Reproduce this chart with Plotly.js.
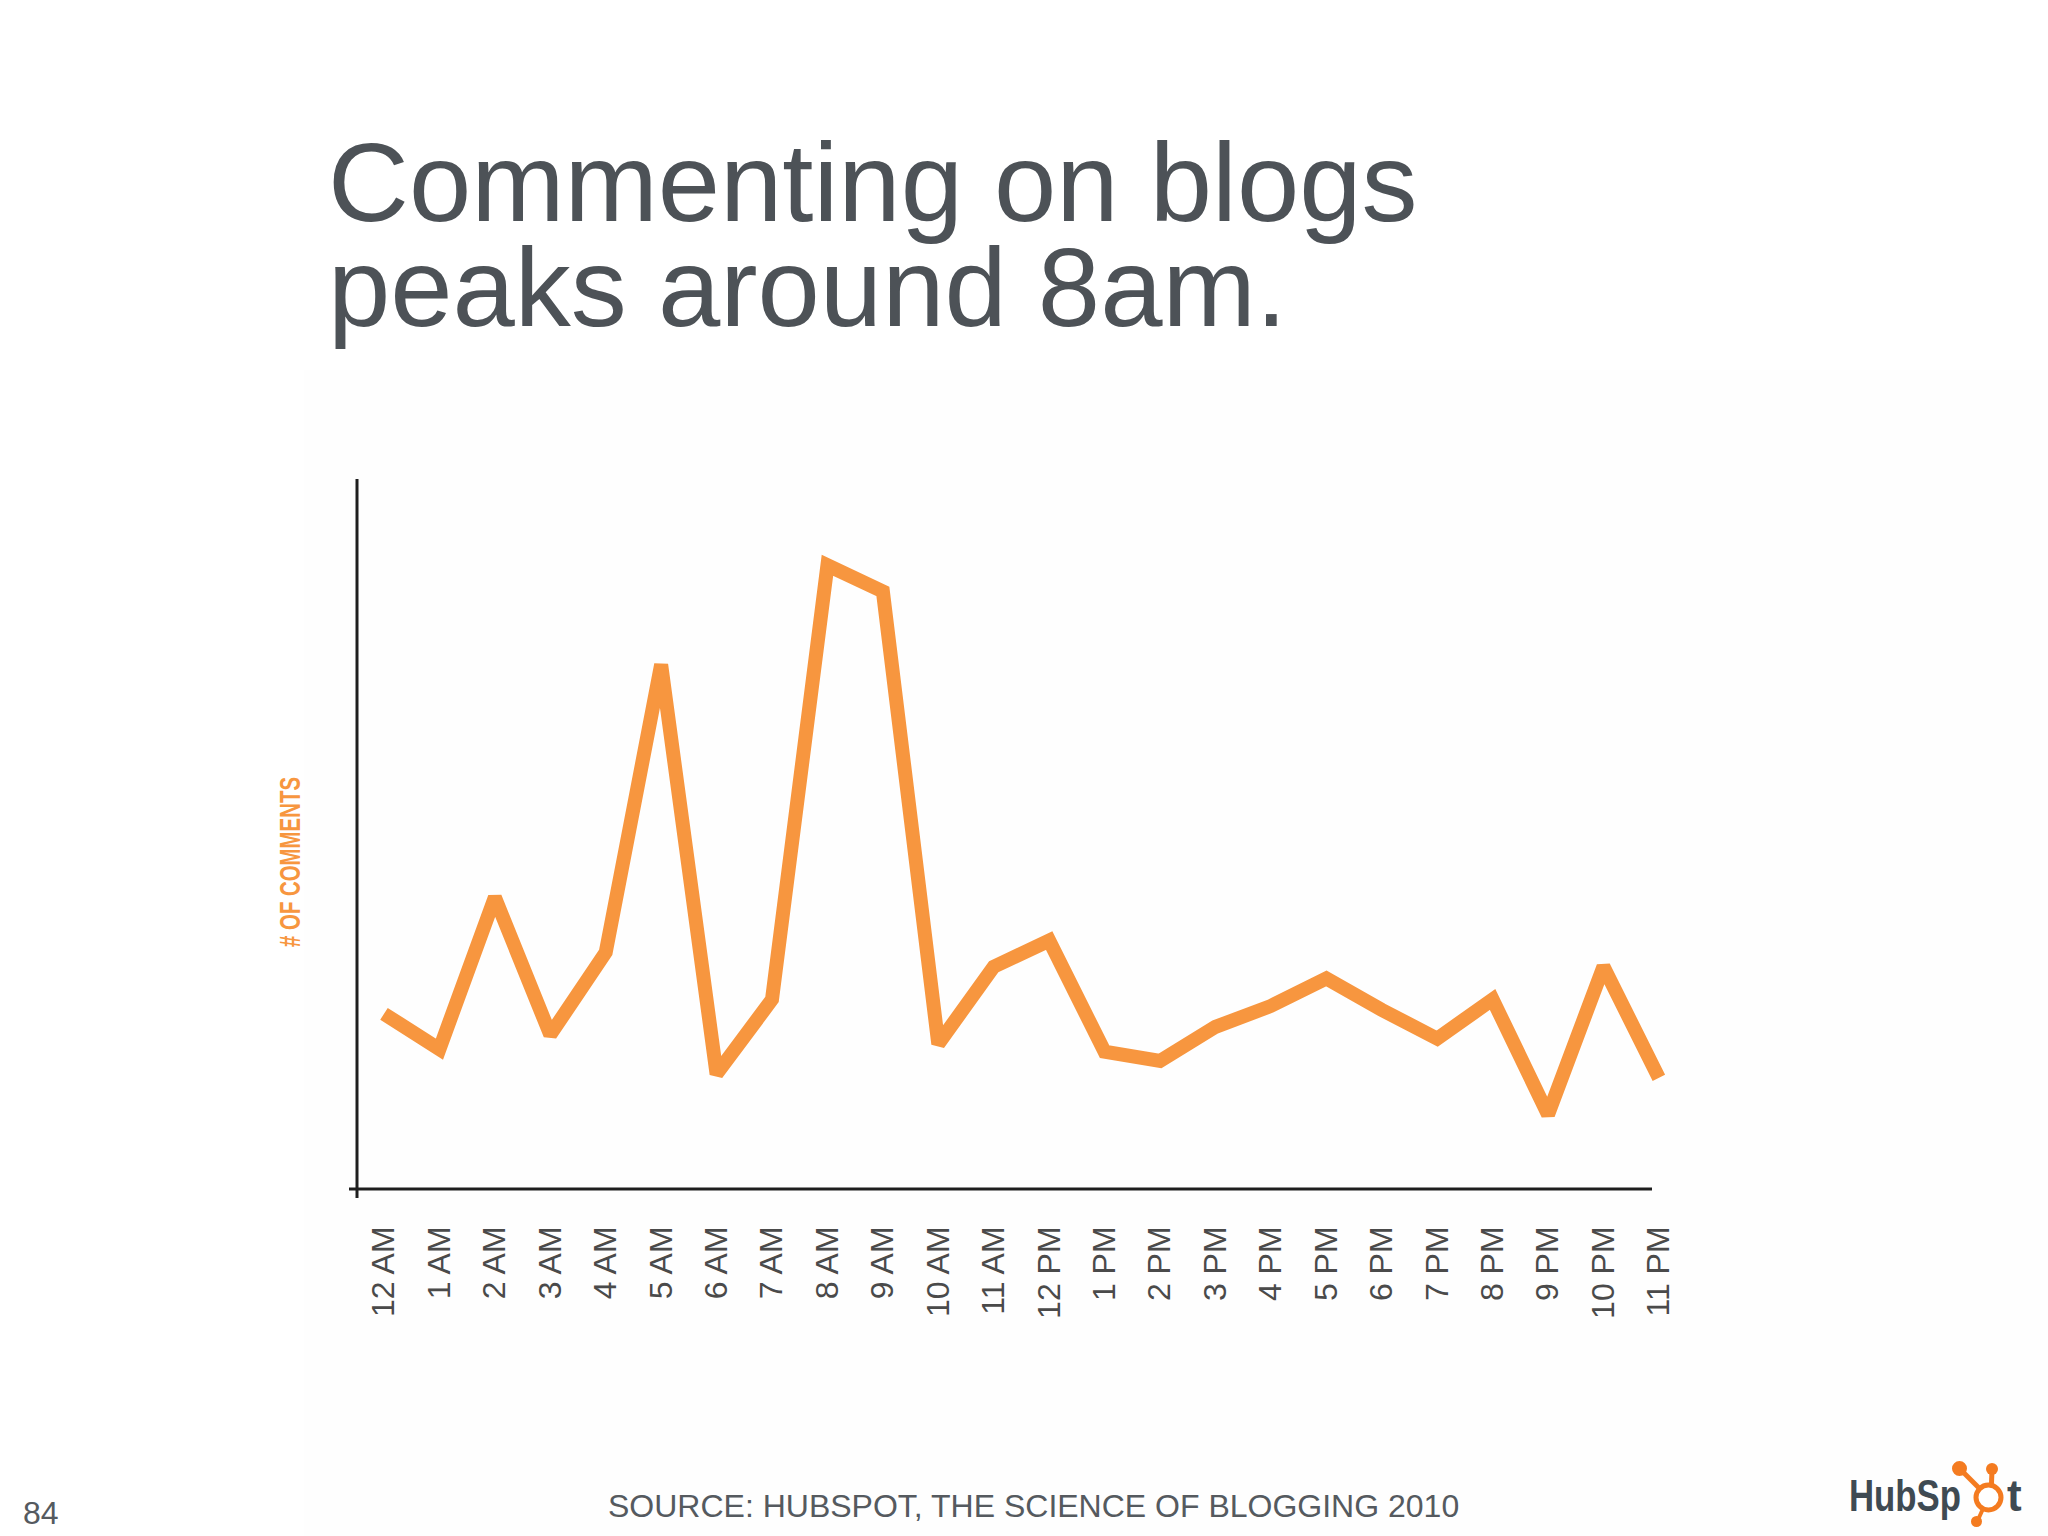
<!DOCTYPE html>
<html>
<head>
<meta charset="utf-8">
<script src="https://cdn.plot.ly/plotly-3.0.1.min.js"></script>
<style>
  html, body { margin: 0; padding: 0; background: #ffffff; }
  #chart { width: 2048px; height: 1536px; }
</style>
</head>
<body>
<div id="chart"></div>
<script>
// ---- Data (arbitrary units, no y tick labels shown) ----
var hours = ["12 AM","1 AM","2 AM","3 AM","4 AM","5 AM","6 AM","7 AM","8 AM","9 AM","10 AM","11 AM",
             "12 PM","1 PM","2 PM","3 PM","4 PM","5 PM","6 PM","7 PM","8 PM","9 PM","10 PM","11 PM"];
var comments = [134, 107, 223, 118, 181, 401, 88, 145, 477, 457, 111, 170,
                190, 105, 98, 124, 140, 161, 137, 115, 145, 57, 170, 85];

var titleLine1 = "Commenting on blogs";
var titleLine2 = "peaks around 8am.";
var yTitle = "# OF COMMENTS";
var sourceText = "SOURCE: HUBSPOT, THE SCIENCE OF BLOGGING 2010";
var pageNumber = "84";

// ---- Layout geometry (pixels) ----
var W = 2048, H = 1536;
var L = 357, R = 1665, T = 479, B = 1189;
function px(x) { return (x - L) / (R - L); }
function py(y) { return (B - y) / (B - T); }

var orange = "#F7963F";
var grey = "#4D5257";
var hsOrange = "#F47B20";

var trace = {
  x: hours,
  y: comments,
  type: "scatter",
  mode: "lines",
  line: { color: orange, width: 14 },
  hoverinfo: "x+y"
};

var sx = -8; // sprocket horizontal offset
var shapes = [
  // faint backdrop of the pasted chart image
  { type: "rect", xref: "paper", yref: "paper", x0: px(304), x1: px(2048), y0: py(370), y1: py(1536),
    fillcolor: "#FEFEFE", line: { width: 0 }, layer: "below" },
  // y axis line
  { type: "line", xref: "paper", yref: "paper", x0: px(357), x1: px(357), y0: py(479), y1: py(1198),
    line: { color: "#1e1e1e", width: 3 } },
  // x axis line
  { type: "line", xref: "paper", yref: "paper", x0: px(349), x1: px(1652), y0: py(1189), y1: py(1189),
    line: { color: "#1e1e1e", width: 3 } },
  // HubSpot sprocket
  { type: "line", xref: "paper", yref: "paper", x0: px(1995 + sx), x1: px(1968 + sx), y0: py(1496), y1: py(1469),
    line: { color: hsOrange, width: 5 } },
  { type: "line", xref: "paper", yref: "paper", x0: px(1999 + sx), x1: px(2000 + sx), y0: py(1496), y1: py(1470),
    line: { color: hsOrange, width: 5 } },
  { type: "line", xref: "paper", yref: "paper", x0: px(1995 + sx), x1: px(1985 + sx), y0: py(1500), y1: py(1522),
    line: { color: hsOrange, width: 4 } },
  { type: "circle", xref: "paper", yref: "paper", x0: px(1984 + sx), x1: px(2009 + sx), y0: py(1485), y1: py(1510),
    fillcolor: "#ffffff", line: { color: hsOrange, width: 5 } },
  { type: "circle", xref: "paper", yref: "paper", x0: px(1960 + sx), x1: px(1975 + sx), y0: py(1461), y1: py(1476),
    fillcolor: hsOrange, line: { width: 0 } },
  { type: "circle", xref: "paper", yref: "paper", x0: px(1994 + sx), x1: px(2006 + sx), y0: py(1463), y1: py(1475),
    fillcolor: hsOrange, line: { width: 0 } },
  { type: "circle", xref: "paper", yref: "paper", x0: px(1979 + sx), x1: px(1990 + sx), y0: py(1516), y1: py(1527),
    fillcolor: hsOrange, line: { width: 0 } }
];

var annotations = [
  { text: titleLine1, xref: "paper", yref: "paper", x: px(326), y: py(183), xanchor: "left", yanchor: "middle",
    showarrow: false, font: { family: "Liberation Sans, Arial, sans-serif", size: 112, color: grey } },
  { text: titleLine2, xref: "paper", yref: "paper", x: px(326), y: py(288), xanchor: "left", yanchor: "middle",
    showarrow: false, font: { family: "Liberation Sans, Arial, sans-serif", size: 112, color: grey } },
  { text: "<b>" + yTitle + "</b>", xref: "paper", yref: "paper", x: px(289), y: py(862), xanchor: "center", yanchor: "middle",
    textangle: -90, showarrow: false,
    font: { family: "Liberation Sans, Arial, sans-serif", size: 30, color: orange } },
  { text: sourceText, xref: "paper", yref: "paper", x: px(1033), y: py(1506), xanchor: "center", yanchor: "middle",
    showarrow: false, font: { family: "Liberation Sans, Arial, sans-serif", size: 32, color: "#555a5f" } },
  { text: pageNumber, xref: "paper", yref: "paper", x: px(21), y: py(1513), xanchor: "left", yanchor: "middle",
    showarrow: false, font: { family: "Liberation Sans, Arial, sans-serif", size: 32, color: "#555a5f" } },
  { text: "<b>HubSp</b>", xref: "paper", yref: "paper", x: px(1847), y: py(1495), xanchor: "left", yanchor: "middle",
    align: "left", showarrow: false,
    font: { family: "Liberation Sans, Arial, sans-serif", size: 44, color: "#3F4A52" } },
  { text: "<b>t</b>", xref: "paper", yref: "paper", x: px(2005), y: py(1495), xanchor: "left", yanchor: "middle",
    showarrow: false, font: { family: "Liberation Sans, Arial, sans-serif", size: 44, color: "#3F4A52" } }
];

var layout = {
  width: W, height: H,
  margin: { l: L, r: W - R, t: T, b: H - B, pad: 0 },
  paper_bgcolor: "#ffffff",
  plot_bgcolor: "rgba(0,0,0,0)",
  showlegend: false,
  xaxis: {
    type: "category",
    range: [-0.487, 23.11],
    showline: false, showgrid: false, zeroline: false,
    ticks: "", tickangle: -90,
    ticklabelstandoff: 30,
    tickfont: { family: "Liberation Sans, Arial, sans-serif", size: 32, color: "#4a4a4a" },
    fixedrange: true
  },
  yaxis: {
    range: [0, 543],
    showline: false, showgrid: false, zeroline: false,
    showticklabels: false, ticks: "",
    fixedrange: true
  },
  shapes: shapes,
  annotations: annotations
};

Plotly.newPlot("chart", [trace], layout, { displayModeBar: false, staticPlot: true }).then(function (gd) {
  // condense the y-axis label and the logo word to the narrow lettering of the reference
  var texts = gd.querySelectorAll(".annotation-text");
  function condense(el, len) {
    if (!el) return;
    el.setAttribute("textLength", len);
    el.setAttribute("lengthAdjust", "spacingAndGlyphs");
  }
  condense(texts[2], 170);
  condense(texts[5], 112);
});
</script>
</body>
</html>
